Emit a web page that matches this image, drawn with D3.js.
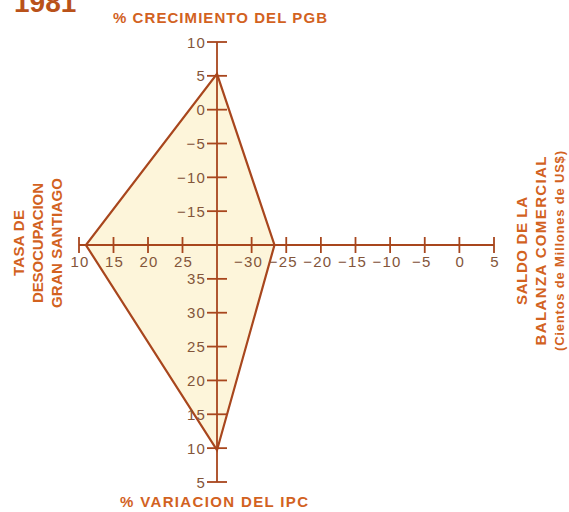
<!DOCTYPE html>
<html><head><meta charset="utf-8">
<script src="https://cdn.jsdelivr.net/npm/d3@7"></script>
<style>html,body{margin:0;padding:0;background:#fff;}svg{display:block;}</style>
</head><body>
<div id="chart"></div>
<script>
// Data
const year = "1981";
const titleTop = "% CRECIMIENTO DEL PGB";
const titleBottom = "% VARIACION DEL IPC";
const titleLeft = ["TASA DE", "DESOCUPACION", "GRAN SANTIAGO"];
const titleRight = ["SALDO DE LA", "BALANZA COMERCIAL", "(Cientos de Millones de US$)"];
const topTicks = [10, 5, 0, -5, -10, -15];
const bottomTicks = [35, 30, 25, 20, 15, 10, 5];
const leftTicks = [10, 15, 20, 25];
const rightTicks = [-30, -25, -20, -15, -10, -5, 0, 5];
const pgb = 5.3, balanza = -26.7, ipc = 9.7, desocupacion = 11;

const W = 569, H = 512;
const cx = 217, cy = 245;
const brown = "#a8461d", orange = "#d2621f", label = "#83553a", fill = "#fdf5da";
const font = "'Liberation Sans', Arial, sans-serif";

const yTop = d3.scaleLinear().domain([-20, 10]).range([cy, 42]);
const yBottom = d3.scaleLinear().domain([40, 5]).range([cy, 482]);
const xLeft = d3.scaleLinear().domain([30, 10]).range([cx, 79]);
const xRight = d3.scaleLinear().domain([-35, 5]).range([cx, 494]);

const svg = d3.select("#chart").append("svg").attr("width", W).attr("height", H);

// polygon
const pts = [
  [cx, yTop(pgb)],
  [xRight(balanza), cy],
  [cx, yBottom(ipc)],
  [xLeft(desocupacion), cy]
];
svg.append("path").attr("d", d3.line()(pts) + "Z")
  .attr("fill", fill).attr("stroke", brown).attr("stroke-width", 2.2).attr("stroke-linejoin", "miter");

// axis lines
const g = svg.append("g").attr("stroke", brown).attr("stroke-width", 1.8);
g.append("line").attr("x1", cx).attr("x2", cx).attr("y1", yTop(10)).attr("y2", yBottom(5));
g.append("line").attr("y1", cy).attr("y2", cy).attr("x1", xLeft(10)).attr("x2", xRight(5));

const vt = topTicks.map(v => yTop(v)).concat(bottomTicks.map(v => yBottom(v)));
g.selectAll(".vt").data(vt).join("line")
  .attr("x1", cx - 10).attr("x2", cx + 10).attr("y1", d => d).attr("y2", d => d);
const ht = leftTicks.map(v => xLeft(v)).concat(rightTicks.map(v => xRight(v)));
g.selectAll(".ht").data(ht).join("line")
  .attr("y1", cy - 8).attr("y2", cy + 8).attr("x1", d => d).attr("x2", d => d);

const fmt = v => (v < 0 ? "\u2212" + Math.abs(v) : String(v));

// tick labels
const lab = svg.append("g").attr("font-family", font).attr("font-size", 15)
  .attr("letter-spacing", 1.2).attr("fill", label);
lab.selectAll(".tl").data(topTicks).join("text")
  .attr("x", 206).attr("y", d => yTop(d) + 5.5).attr("text-anchor", "end").text(fmt);
lab.selectAll(".bl").data(bottomTicks).join("text")
  .attr("x", 206).attr("y", d => yBottom(d) + 5.5).attr("text-anchor", "end").text(fmt);
lab.selectAll(".ll").data(leftTicks).join("text")
  .attr("x", d => xLeft(d) + 1).attr("y", 267).attr("text-anchor", "middle").text(fmt);
lab.selectAll(".rl").data(rightTicks).join("text")
  .attr("x", d => xRight(d) + 1 + (d < 0 ? -4 : 0)).attr("y", 267).attr("text-anchor", "middle").text(fmt);

// titles
svg.append("text").attr("x", 14).attr("y", 12).attr("font-family", font).attr("font-weight", "bold")
  .attr("font-size", 28).attr("fill", "#b9521a").text(year);
const t = svg.append("g").attr("font-family", font).attr("font-weight", "bold").attr("fill", orange);
t.append("text").attr("x", 220).attr("y", 23).attr("text-anchor", "middle").attr("font-size", 15)
  .attr("textLength", 214).attr("lengthAdjust", "spacing").text(titleTop);
t.append("text").attr("x", 214).attr("y", 507).attr("text-anchor", "middle").attr("font-size", 15)
  .attr("textLength", 188).attr("lengthAdjust", "spacing").text(titleBottom);
const leftX = [24, 43, 62], leftLen = [66, 120, 130];
titleLeft.forEach((s, i) => {
  t.append("text").attr("transform", `translate(${leftX[i]},243) rotate(-90)`)
    .attr("text-anchor", "middle").attr("font-size", 15)
    .attr("textLength", leftLen[i]).attr("lengthAdjust", "spacing").text(s);
});
const rightX = [527, 546, 564], rightLen = [108, 189, 200], rightSize = [15, 15, 13];
titleRight.forEach((s, i) => {
  t.append("text").attr("transform", `translate(${rightX[i]},251) rotate(-90)`)
    .attr("text-anchor", "middle").attr("font-size", rightSize[i])
    .attr("textLength", rightLen[i]).attr("lengthAdjust", "spacing").text(s);
});
</script>
</body></html>
